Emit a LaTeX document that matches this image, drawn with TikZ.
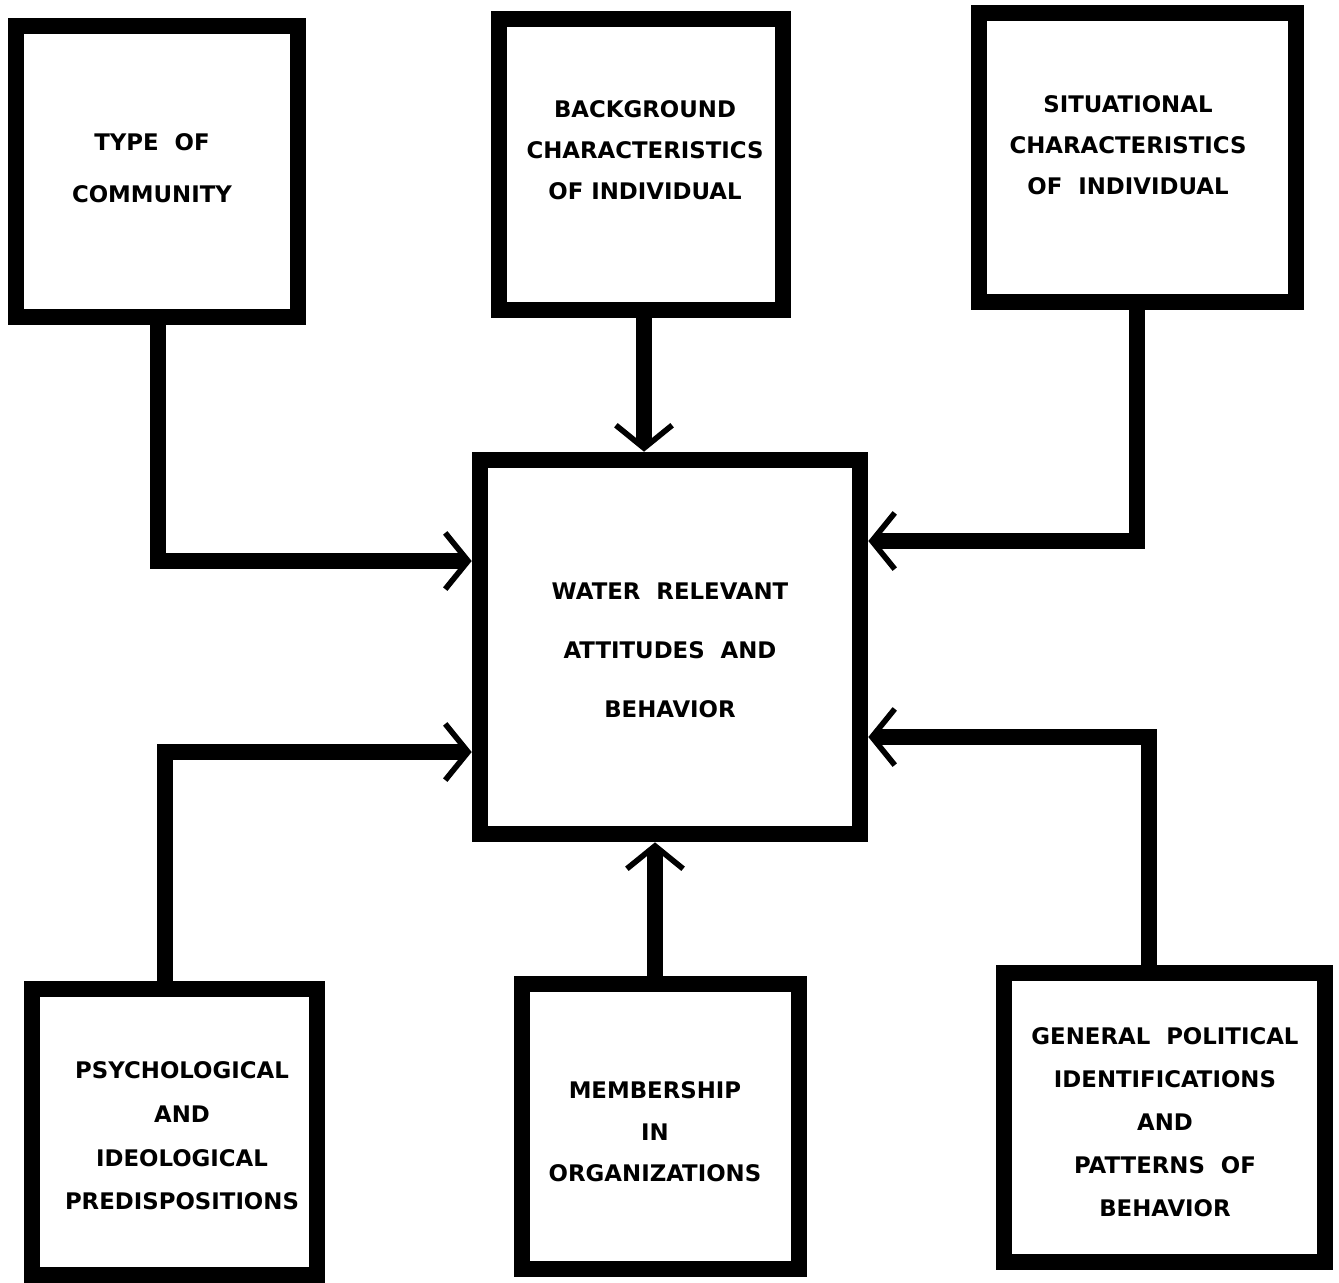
\documentclass[tikz,border=0pt]{standalone}
\usepackage{fontspec}
\newfontfamily\labelfont{DejaVu Sans}
\usetikzlibrary{arrows.meta}

\tikzset{
	box/.style={draw, line width=9.5pt, inner sep=0pt},
	txt/.style={align=center, inner sep=0pt, font=\labelfont\bfseries\fontsize{13}{#1}\selectfont},
	link/.style={line width=9.5pt, -{Straight Barb[length=13pt,width=32pt,line width=3.2pt]}}
}

\begin{document}
\begin{tikzpicture}[x=0.02cm, y=-0.02cm]
	%固定画面大小
	\useasboundingbox (0,0) rectangle (1339,1282);
	%上排三个方框
	\node [box, minimum width=5.64cm, minimum height=5.82cm] (comm) at (157,171.5) {};
	\node [box, minimum width=5.68cm, minimum height=5.82cm] (backg) at (641,164.5) {};
	\node [box, minimum width=6.34cm, minimum height=5.78cm] (situ) at (1137.5,157.5) {};
	%中间方框
	\node [box, minimum width=7.6cm, minimum height=7.48cm] (water) at (670,647) {};
	%下排三个方框
	\node [box, minimum width=5.7cm, minimum height=5.72cm] (psych) at (174.5,1132) {};
	\node [box, minimum width=5.54cm, minimum height=5.7cm] (member) at (660.5,1126.5) {};
	\node [box, minimum width=6.42cm, minimum height=5.78cm] (polit) at (1164.5,1117.5) {};
	
	%方框里的文字
	\node [txt=29.6pt] (commtxt) at (152,168) {TYPE\ \ OF\\COMMUNITY};
	\node [txt=23.3pt] (backgtxt) at (645,150) {BACKGROUND\\CHARACTERISTICS\\OF INDIVIDUAL};
	\node [txt=23.3pt] (situtxt) at (1128,145) {SITUATIONAL\\CHARACTERISTICS\\OF\ \ INDIVIDUAL};
	\node [txt=33.6pt] (watertxt) at (670,650) {WATER\ \ RELEVANT\\ATTITUDES\ \ AND\\BEHAVIOR};
	\node [txt=24.9pt] (psychtxt) at (182,1136) {PSYCHOLOGICAL\\AND\\IDEOLOGICAL\\PREDISPOSITIONS};
	\node [txt=23.6pt] (membertxt) at (655,1132) {MEMBERSHIP\\IN\\ORGANIZATIONS};
	\node [txt=24.5pt] (polittxt) at (1165,1122) {GENERAL\ \ POLITICAL\\IDENTIFICATIONS\\AND\\PATTERNS\ \ OF\\BEHAVIOR};
	
	%竖直的两条箭头
	\draw [link] (backg.south -| 644,0) -- (water.north -| 644,0);
	\draw [link] (member.north -| 655,0) -- (water.south -| 655,0);
	%折线箭头
	\foreach \src/\x/\y/\side in {comm.south/158/561/west, psych.north/165/752/west,
		situ.south/1137/541/east, polit.north/1149/737/east}
		\draw [link] (\src -| \x,0) |- (water.\side |- 0,\y);
\end{tikzpicture}
\end{document}
